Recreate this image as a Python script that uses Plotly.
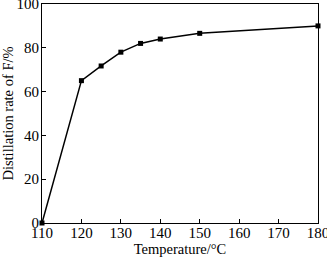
import plotly.graph_objects as go

temperature = [110, 120, 125, 130, 135, 140, 150, 180]
distillation_rate = [0, 65, 71.7, 78, 82, 84, 86.6, 90]
x_ticks = [110, 120, 130, 140, 150, 160, 170, 180]
y_ticks = [0, 20, 40, 60, 80, 100]

tick_font = dict(family="Liberation Serif, Times New Roman, serif", size=15, color="black")
title_font = dict(family="Liberation Serif, Times New Roman, serif", size=14.5, color="black")

fig = go.Figure(go.Scatter(
    x=temperature, y=distillation_rate, mode="lines+markers",
    line=dict(color="black", width=1.5),
    marker=dict(symbol="square", size=5, color="black"),
    cliponaxis=False,
))

axis_common = dict(
    showline=True, linecolor="black", linewidth=1, mirror=True,
    ticks="inside", ticklen=4, tickcolor="black", showgrid=False,
    zeroline=False, tickfont=tick_font, ticklabeloverflow="allow",
    automargin=False,
)

fig.update_layout(
    width=327, height=258,
    margin=dict(l=42, r=9, t=4, b=35),
    paper_bgcolor="white", plot_bgcolor="white",
    showlegend=False, font=tick_font,
    xaxis=dict(range=[109.999, 180.001], tickvals=x_ticks, ticklabelstandoff=-4,
               title=dict(text="Temperature/°C", font=title_font, standoff=0), **axis_common),
    yaxis=dict(range=[-0.001, 100.001], tickvals=y_ticks, ticklabelstandoff=-1,
               title=dict(text="Distillation rate of F/%", font=title_font, standoff=2), **axis_common),
)

fig.write_html("out.html")
